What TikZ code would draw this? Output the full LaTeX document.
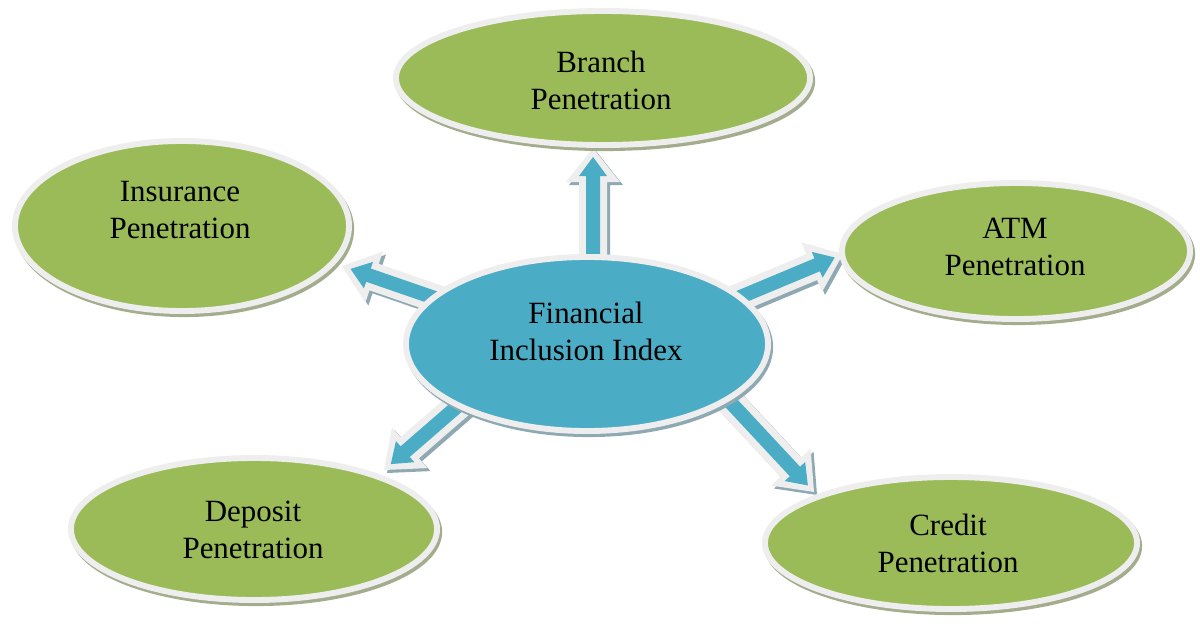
\documentclass[tikz,border=0pt]{standalone}
\usepackage{fontspec}
\setmainfont{Liberation Serif}
\usepackage{xcolor}
\usetikzlibrary{shapes.geometric,calc,backgrounds}

\definecolor{leafgreen}{HTML}{9BBB59}
\definecolor{aquablue}{HTML}{4BACC6}
\definecolor{rimgray}{HTML}{EEEEEE}
\definecolor{greenshade}{HTML}{A3AC8C}
\definecolor{blueshade}{HTML}{8FA9B3}

\tikzset{
  bubble/.style={ellipse, inner sep=0pt, outer sep=0pt, draw=rimgray, line width=4.2pt,
    preaction={draw=#1, fill=#1, line width=4.2pt, transform canvas={xshift=1.5pt, yshift=-2.2pt}}},
  bubble/.default=greenshade,
  outer/.style={bubble, fill=leafgreen},
  hub/.style={bubble=blueshade, fill=aquablue},
  caption/.style={align=center, font=\fontsize{22}{26.2}\selectfont}
}

% block arrow from #1 (tail) to #2 (tip), lengths in px of the picture
\newdimen\arrowdx
\newdimen\arrowdy
\makeatletter
\newcommand\flowarrow[2]{%
  \pgfpointdiff{\pgfpointanchor{#2}{center}}{\pgfpointanchor{#1}{center}}%
  \arrowdx=\pgf@x \arrowdy=\pgf@y
  \pgfmathsetmacro\arrowangle{atan2(\arrowdy,\arrowdx)}%
  \pgfmathsetmacro\arrowlen{veclen(\arrowdx,\arrowdy)/0.71132}%
  \begin{scope}[shift={($(#2)+(3,3)$)}, rotate=\arrowangle]
    \fill[blueshade] (0,0) -- (34,27) -- (34,14) -- (\arrowlen,14) -- (\arrowlen,-14) -- (34,-14) -- (34,-27) -- cycle;
  \end{scope}
  \begin{scope}[shift={(#2)}, rotate=\arrowangle]
    \fill[rimgray] (0,0) -- (34,27) -- (34,14) -- (\arrowlen,14) -- (\arrowlen,-14) -- (34,-14) -- (34,-27) -- cycle;
    \fill[aquablue] (9,0) -- (28,14) -- (28,7) -- (\arrowlen,7) -- (\arrowlen,-7) -- (28,-7) -- (28,-14) -- cycle;
  \end{scope}
}
\makeatother

\begin{document}
\begin{tikzpicture}[x=0.025cm, y=-0.025cm]
  \useasboundingbox (0,0) rectangle (1200,623);

  % Ellipses
  \node[outer, minimum width=10.35cm, minimum height=3.35cm] (branch) at (603,78) {};
  \node[outer, minimum width=8.35cm, minimum height=4.25cm] (insurance) at (182,226) {};
  \node[outer, minimum width=8.7cm, minimum height=3.4cm] (atm) at (1016,251) {};
  \node[outer, minimum width=9.15cm, minimum height=3.55cm] (deposit) at (254,529) {};
  \node[outer, minimum width=9.3cm, minimum height=3.3cm] (credit) at (951,543) {};
  \node[hub, minimum width=9.05cm, minimum height=4.35cm] (fii) at (587,344) {};

  % Labels
  \node[caption] (branch-t) at (601,80) {Branch\\Penetration};
  \node[caption] (insurance-t) at (180,210) {Insurance\\Penetration};
  \node[caption] (atm-t) at (1015,247) {ATM\\Penetration};
  \node[caption] (deposit-t) at (253,530) {Deposit\\Penetration};
  \node[caption] (credit-t) at (948,543) {Credit\\Penetration};
  \node[caption] (fii-t) at (586,331) {Financial\\Inclusion Index};

  % Arrow ends
  \coordinate (b-tail) at (593,300);
  \coordinate (b-tip) at (593,148);
  \coordinate (i-tail) at (455,305);
  \coordinate (i-tip) at (342,266);
  \coordinate (a-tail) at (733,300);
  \coordinate (a-tip) at (843,254);
  \coordinate (d-tail) at (475,391);
  \coordinate (d-tip) at (384,470);
  \coordinate (c-tail) at (719,390);
  \coordinate (c-tip) at (814,492);

  % Arrows
  \begin{scope}[on background layer]
    \flowarrow{b-tail}{b-tip}
    \flowarrow{i-tail}{i-tip}
    \flowarrow{a-tail}{a-tip}
    \flowarrow{d-tail}{d-tip}
    \flowarrow{c-tail}{c-tip}
  \end{scope}
\end{tikzpicture}
\end{document}
